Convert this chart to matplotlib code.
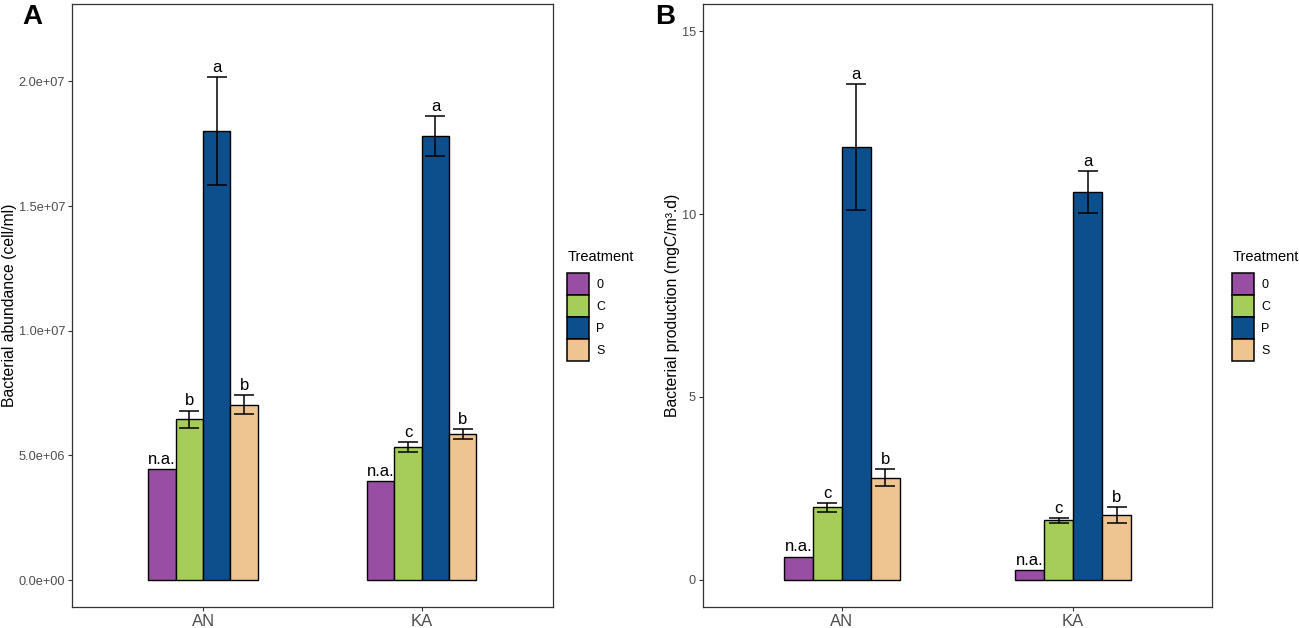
import numpy as np
import matplotlib
matplotlib.use("Agg")
import matplotlib.pyplot as plt
from matplotlib.patches import Patch

plt.rcParams['font.family'] = ['Liberation Sans', 'DejaVu Sans']

# data
sites = ["AN", "KA"]
treatments = ["0", "C", "P", "S"]
colors = ["#984ea3", "#a6cd5a", "#0c4f8c", "#eec591"]

# panel A - bacterial abundance (cell/ml), rows = site, cols = treatment
abund = np.array([[4.44e6, 6.44e6, 18.0e6, 7.04e6],
                  [3.96e6, 5.35e6, 17.82e6, 5.85e6]])
abund_err = np.array([[np.nan, 0.36e6, 2.16e6, 0.37e6],
                      [np.nan, 0.20e6, 0.80e6, 0.20e6]])
abund_lab = [["n.a.", "b", "a", "b"],
             ["n.a.", "c", "a", "b"]]
abund_ticks = [0, 5e6, 1e7, 1.5e7, 2e7]

# panel B - bacterial production (mgC/m3.d)
prod = np.array([[0.64, 1.99, 11.83, 2.79],
                 [0.26, 1.63, 10.61, 1.77]])
prod_err = np.array([[np.nan, 0.12, 1.72, 0.23],
                     [np.nan, 0.06, 0.57, 0.22]])
prod_lab = [["n.a.", "c", "a", "b"],
            ["n.a.", "c", "a", "b"]]
prod_ticks = [0, 5, 10, 15]

fig = plt.figure(figsize=(12.99, 6.28), dpi=100)
axA = fig.add_axes([0.0554, 0.0334, 0.3703, 0.9602])
axB = fig.add_axes([0.5412, 0.0334, 0.3918, 0.9602])

bw = 0.125  # bar width (dodge 0.5 / 4)


def draw_panel(ax, vals, errs, labs, ticks, fmt, ylim, ylabel, lab_x, leg_x):
    x = np.arange(1, len(sites) + 1)
    for j, t in enumerate(treatments):
        xs = x + (j - 1.5) * bw
        ax.bar(xs, vals[:, j], width=bw, color=colors[j], edgecolor="black",
               linewidth=1.0, label=t, zorder=2)
        e = errs[:, j]
        ok = ~np.isnan(e)
        if ok.any():
            ax.errorbar(xs[ok], vals[ok, j], yerr=e[ok], fmt="none",
                        ecolor="black", elinewidth=1.1, capsize=7.5,
                        capthick=1.1, zorder=3)
        for i in range(len(sites)):
            top = vals[i, j] + (0 if np.isnan(e[i]) else e[i])
            ax.annotate(labs[i][j], (xs[i], top), xytext=(0, 1.5),
                        textcoords="offset points", ha="center", va="bottom",
                        fontsize=12, color="black")
    ax.set_xlim(0.4, 2.6)
    ax.set_ylim(*ylim)
    ax.set_xticks(x)
    ax.set_xticklabels(sites, fontsize=12, color="#4d4d4d")
    ax.set_yticks(ticks)
    ax.set_yticklabels([fmt(v) for v in ticks], fontsize=9.2, color="#4d4d4d")
    ax.tick_params(length=3, width=0.8, color="#333333", pad=2)
    for s in ax.spines.values():
        s.set_color("#333333")
        s.set_linewidth(0.9)
    ax.set_ylabel(ylabel, fontsize=11.3, va="center")
    ax.yaxis.set_label_coords(lab_x, 0.5)
    handles = [Patch(facecolor=c, edgecolor="black", linewidth=1.1)
               for c in colors]
    leg = ax.legend(handles, treatments, title="Treatment", loc="center left",
                    bbox_to_anchor=(leg_x, 0.5), frameon=False, fontsize=9,
                    title_fontsize=10.5, handlelength=1.72, handleheight=2.33,
                    labelspacing=0.0, handletextpad=0.6, borderpad=0,
                    alignment="left")
    leg._legend_box.sep = 6  # gap between title and keys


draw_panel(axA, abund, abund_err, abund_lab, abund_ticks,
           lambda v: f"{v:.1e}", (-1.08e6, 23.1e6),
           "Bacterial abundance (cell/ml)", -0.129, 1.017)
draw_panel(axB, prod, prod_err, prod_lab, prod_ticks,
           lambda v: f"{v:g}", (-0.74, 15.74),
           "Bacterial production (mgC/m³.d)", -0.059, 1.028)

fig.text(0.0175, 0.962, "A", fontsize=20, fontweight="bold", va="baseline")
fig.text(0.5045, 0.962, "B", fontsize=20, fontweight="bold", va="baseline")

fig.savefig("out.png", dpi=100)
